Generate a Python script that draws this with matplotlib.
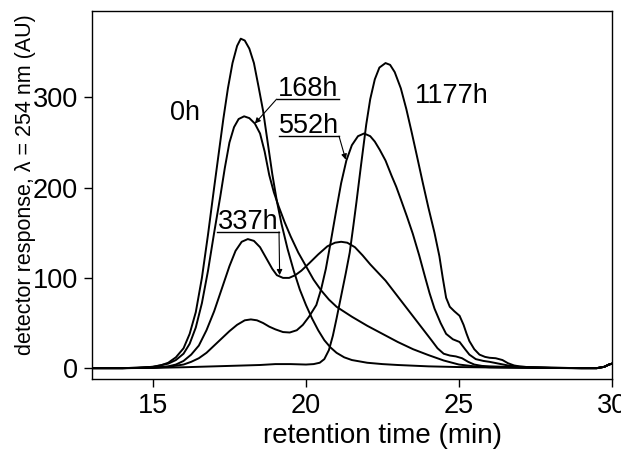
import matplotlib
matplotlib.use("Agg")
import matplotlib.pyplot as plt

plt.rcParams['font.family'] = ['Liberation Sans', 'DejaVu Sans']

# chromatograms (retention time in min, response in AU)
t_0h = [13, 14, 14.5, 15, 15.25, 15.5, 15.75, 16.0, 16.2, 16.4, 16.6, 16.8, 17.0, 17.15,
        17.3, 17.45, 17.6, 17.75, 17.87, 18.0, 18.15, 18.3, 18.45, 18.6, 18.75, 18.9,
        19.05, 19.2, 19.4, 19.6, 19.8, 20.0, 20.2, 20.4, 20.6, 20.8, 21.0, 21.25, 21.5,
        22, 22.5, 23, 24, 25, 26, 27, 28, 29, 29.5, 29.75, 29.9, 30]
r_0h = [0, 0, 0.5, 1.5, 3, 6, 12, 22, 38, 62, 100, 148, 200, 238,
        276, 310, 338, 357, 365, 363, 354, 338, 312, 285, 250, 215,
        185, 160, 132, 108, 87, 70, 55, 42, 31, 23, 17, 12, 9,
        6, 4.5, 3.5, 2, 1.2, 0.8, 0.5, 0.2, 0, 0, 1.5, 4, 5]

t_168h = [13, 14, 14.5, 15, 15.5, 15.75, 16.0, 16.2, 16.4, 16.6, 16.8, 17.0, 17.2, 17.35,
          17.5, 17.65, 17.8, 17.98, 18.15, 18.33, 18.5, 18.65, 18.8, 18.95, 19.1, 19.3,
          19.5, 19.75, 20.0, 20.25, 20.5, 20.75, 21.0, 21.5, 22, 22.5, 23, 23.5, 24,
          24.5, 25, 25.5, 26, 27, 28, 29, 29.5, 29.75, 29.9, 30]
r_168h = [0, 0, 0.5, 1.5, 5, 9, 16, 27, 45, 72, 108, 150, 190, 222,
          250, 267, 276, 279, 277, 271, 260, 240, 214, 195, 180, 162,
          146, 128, 113, 98, 86, 76, 68, 57, 47, 38, 29, 21, 14.5,
          8.5, 4, 2, 1, 0.5, 0.2, 0, 0, 1.5, 4, 5]

t_337h = [13, 14, 15, 15.5, 15.75, 16.0, 16.25, 16.5, 16.75, 17.0, 17.25, 17.5, 17.7, 17.9,
          18.1, 18.3, 18.5, 18.7, 18.9, 19.05, 19.25, 19.45, 19.65, 19.85, 20.1, 20.4,
          20.7, 20.95, 21.15, 21.35, 21.6, 21.85, 22.1, 22.35, 22.6, 22.85, 23.1, 23.35,
          23.6, 23.85, 24.1, 24.3, 24.5, 24.7, 24.9, 25.1, 25.3, 25.5, 25.75, 26, 26.5,
          27, 28, 29, 29.5, 29.75, 29.9, 30]
r_337h = [0, 0, 0.5, 2, 4, 8, 15, 25, 42, 63, 88, 113, 130, 140,
          143, 141, 134, 122, 110, 103, 100, 100, 103, 108, 116, 126,
          135, 139, 140, 139, 134, 125, 115, 106, 97, 86, 75, 64,
          53, 42, 31, 22, 16, 14, 13, 11, 7, 4, 2.5, 2, 1.5,
          1, 0.3, 0, 0, 1.5, 4, 5]

t_552h = [13, 14, 15, 15.5, 16, 16.25, 16.5, 16.75, 17.0, 17.25, 17.5, 17.75, 18.0, 18.2,
          18.4, 18.6, 18.8, 19.0, 19.25, 19.47, 19.7, 19.9, 20.1, 20.34, 20.5, 20.65,
          20.8, 20.99, 21.15, 21.32, 21.5, 21.7, 21.9, 22.1, 22.25, 22.41, 22.6, 22.8,
          22.95, 23.1, 23.3, 23.49, 23.7, 23.9, 24.04, 24.2, 24.4, 24.58, 24.8, 25.02,
          25.2, 25.34, 25.55, 25.8, 26.0, 26.3, 26.6, 27, 28, 29, 29.5, 29.75, 29.9, 30]
r_552h = [0, 0, 0.5, 1.5, 4, 7, 11, 17, 25, 33, 41, 48, 53, 54,
          53, 50, 46, 43, 40, 39.5, 42, 48, 57, 70, 88, 110,
          138, 175, 205, 230, 247, 257, 260, 257, 251, 242, 230, 213,
          201, 187, 168, 149, 125, 100, 83, 66, 50, 38, 32, 29,
          21, 15, 10, 8, 7, 5, 3, 1.5, 0.5, 0, 0, 1.5, 4, 5]

t_1177h = [13, 14, 15, 16, 17, 17.5, 18, 18.5, 19, 19.5, 20, 20.25, 20.45, 20.6,
           20.75, 20.88, 21.0, 21.15, 21.3, 21.43, 21.55, 21.65, 21.8, 21.97, 22.1,
           22.25, 22.4, 22.6, 22.75, 22.9, 23.1, 23.28, 23.45, 23.62, 23.82, 24.0, 24.2,
           24.36, 24.47, 24.58, 24.7, 24.85, 25.02, 25.15, 25.25, 25.34, 25.5, 25.67,
           25.85, 26.0, 26.2, 26.42, 26.6, 26.8, 26.97, 27.3, 28, 29, 29.5, 29.75, 29.9, 30]
r_1177h = [0, 0, 0.3, 1, 2, 2.5, 3, 3.5, 4.5, 4.5, 4, 4.5, 6, 10,
           20, 36, 55, 80, 105, 128, 158, 184, 225, 270, 298,
           320, 333, 338, 336, 328, 310, 287, 262, 236, 205, 178, 150,
           124, 100, 78, 68, 63, 58, 48, 38, 30, 21, 15,
           12.5, 11.5, 11, 9, 5.5, 3, 2, 1, 0.5, 0, 0, 1.5, 4, 5]

series = [(t_0h, r_0h), (t_168h, r_168h), (t_337h, r_337h), (t_552h, r_552h), (t_1177h, r_1177h)]

x_ticks = [15, 20, 25, 30]
y_ticks = [0, 100, 200, 300]

fig = plt.figure(figsize=(6.21, 4.5), dpi=100)
ax = fig.add_axes([0.1477, 0.1578, 0.8378, 0.8184])

for t, r in series:
    ax.plot(t, r, color='black', lw=1.4, solid_joinstyle='round')

ax.set_xlim(13, 30)
ax.set_ylim(-12, 396)
ax.set_xticks(x_ticks)
ax.set_yticks(y_ticks)
ax.tick_params(direction='out', length=6, width=1, labelsize=19.5, pad=4)
for s in ax.spines.values():
    s.set_linewidth(1)

ax.set_xlabel("retention time (min)", fontsize=20)
ax.xaxis.set_label_coords(0.558, -0.12)
ax.set_ylabel("detector response, λ = 254 nm (AU)", fontsize=15.5)
ax.yaxis.set_label_coords(-0.107, 0.527)

# plain labels
ax.text(16.04, 283, "0h", fontsize=19.5, ha='center', va='center')
ax.text(24.77, 302, "1177h", fontsize=19.5, ha='center', va='center')

# underlined labels with leader arrows: (text, underline x0, x1, y, arrow start x, tip x, tip y)
labels = [("168h", 19.04, 21.08, 298, 19.04, 18.33, 271),
          ("552h", 19.11, 21.08, 257, 21.08, 21.30, 231),
          ("337h", 17.10, 19.12, 151, 19.12, 19.14, 103)]
for txt, x0, x1, yu, xs, xt, yt in labels:
    ax.plot([x0, x1], [yu, yu], color='black', lw=1)
    ax.text((x0 + x1) / 2, yu + 3, txt, fontsize=19.5, ha='center', va='baseline')
    ax.annotate("", xy=(xt, yt), xytext=(xs, yu),
                arrowprops=dict(arrowstyle='-|>', color='black', lw=0.8,
                                mutation_scale=8, shrinkA=0, shrinkB=0))

fig.savefig("out.png", dpi=100)
